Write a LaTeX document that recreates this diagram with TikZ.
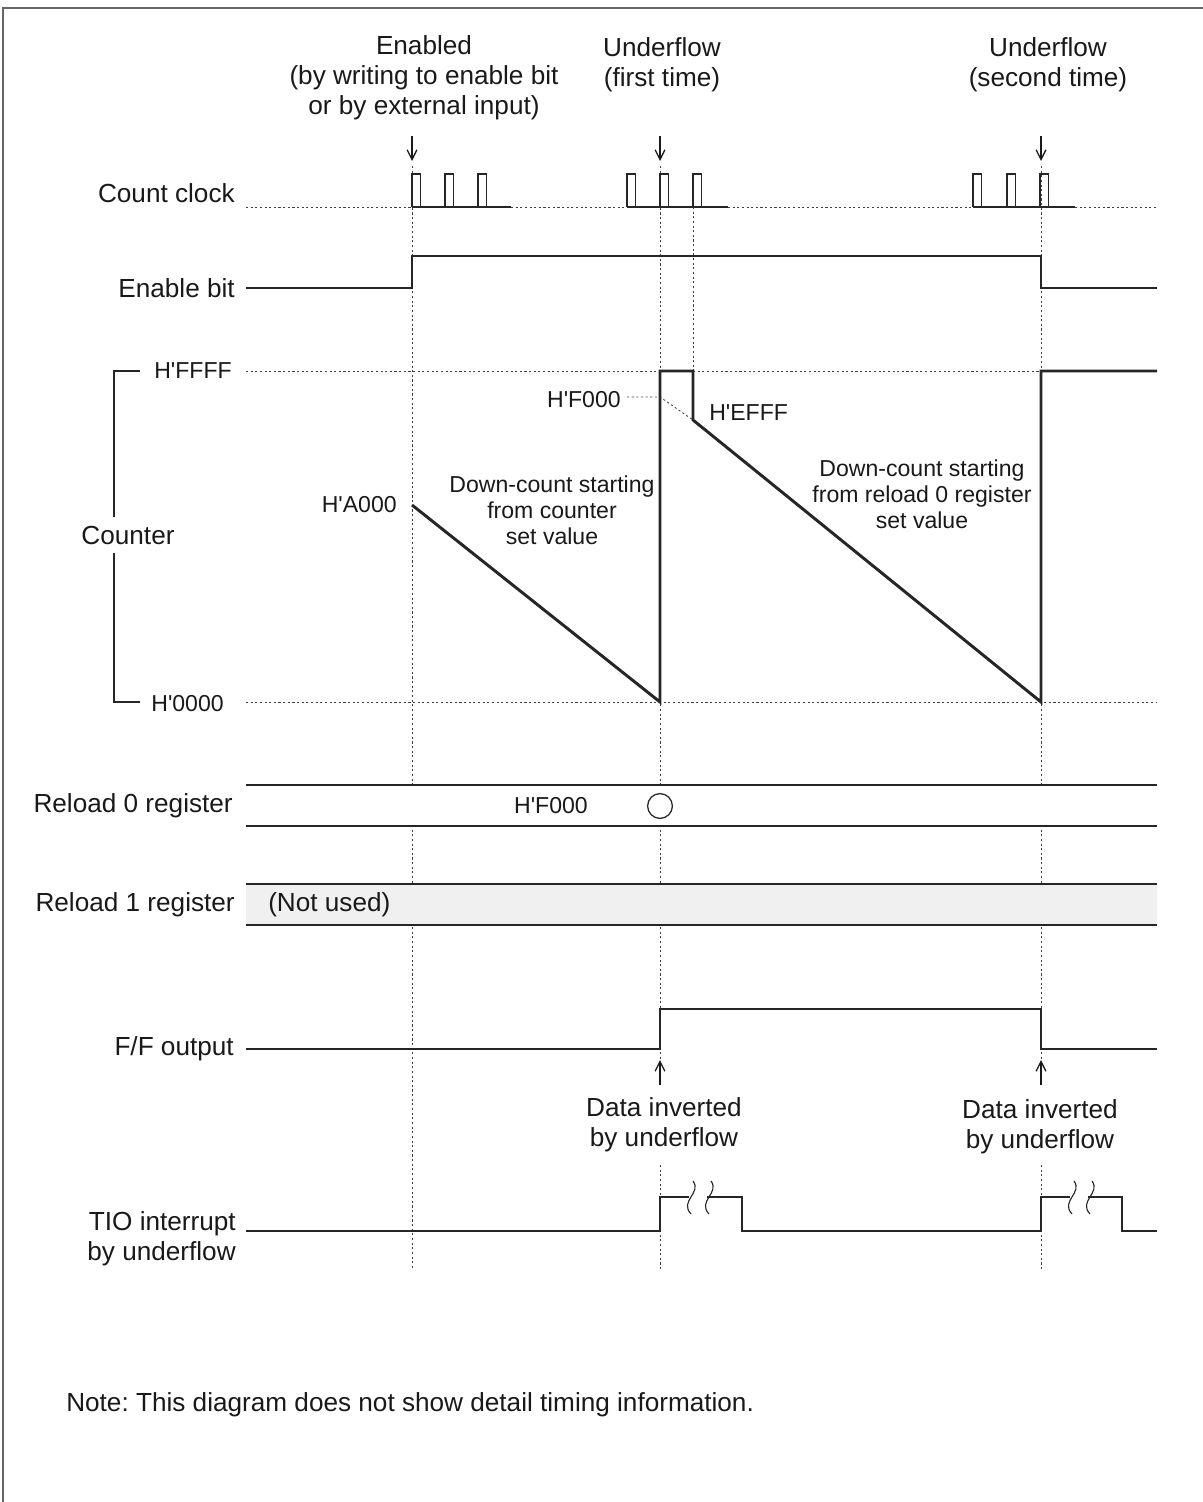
\documentclass[tikz,border=0pt]{standalone}
\usepackage{fontspec}
\setmainfont{Liberation Sans}
\usetikzlibrary{arrows.meta}
\newcommand{\hexv}[1]{H\textquotesingle#1}
\frenchspacing
\begin{document}
\begin{tikzpicture}[x=0.025cm, y=-0.025cm,
    sig/.style={line width=0.9pt, black!85},
    cnt/.style={line width=2.1pt, black!85, line join=miter},
    guide/.style={line width=0.6pt, black!75, dash pattern=on 1.5pt off 1.8pt},
    lbl/.style={font=\fontsize{18.6}{21.3}\selectfont, inner sep=0pt, text=black!90},
    vlbl/.style={font=\fontsize{16.4}{18.5}\selectfont, inner sep=0pt, text=black!90},
    evarrow/.style={-{Straight Barb[length=7pt,width=7pt]}, line width=0.9pt, black!90}]
    \useasboundingbox (0,0) rectangle (1203,1502);
    % 枠
    \draw[line width=1.4pt, black!60] (1203,8) -- (3,8) -- (3,1502);

    % 見出し
    \node[lbl, align=center] (enlbl) at (424,78) {Enabled\\(by writing to enable bit\\or by external input)};
    \node[lbl, align=center] (uf1lbl) at (662,65) {Underflow\\(first time)};
    \node[lbl, align=center] (uf2lbl) at (1048,65) {Underflow\\(second time)};
    \draw[evarrow] (412,136) -- (412,161);
    \draw[evarrow] (660,136) -- (660,161);
    \draw[evarrow] (1041,136) -- (1041,161);

    % 縦の補助線
    \draw[guide] (412,166) -- (412,1270);
    \foreach \x in {660,1041}
      \draw[guide] (\x,166) -- (\x,1060) (\x,1165) -- (\x,1270);
    \draw[guide] (693,207) -- (693,371);

    % カウントクロック
    \node[lbl, anchor=east] (clklbl) at (235,193) {Count clock};
    \draw[guide] (246,207) -- (412,207) (511,207) -- (627,207) (728,207) -- (973,207) (1075,207) -- (1157,207);
    \draw[sig] (412,207) -- (511,207) (627,207) -- (728,207) (973,207) -- (1075,207);
    \foreach \x in {412,445,478,627,660,693,973,1007,1040}
      \draw[sig] (\x,207) -- (\x,174) -- ++(8.5,0) -- ++(0,33);

    % イネーブルビット
    \node[lbl, anchor=east] (enblbl) at (235,288) {Enable bit};
    \draw[sig] (246,288) -- (412,288) -- (412,256) -- (1041,256) -- (1041,288) -- (1157,288);

    % カウンタ
    \node[lbl] (cntlbl) at (128,535) {Counter};
    \draw[sig] (140,371) -- (114,371) -- (114,517);
    \draw[sig] (114,553) -- (114,702) -- (140,702);
    \node[vlbl, anchor=east] (ffff) at (232,371) {\hexv{FFFF}};
    \node[vlbl, anchor=east] (zero) at (224,704) {\hexv{0000}};
    \draw[guide] (246,371) -- (660,371) (693,371) -- (1041,371);
    \draw[guide] (246,702) -- (1157,702);
    \draw[guide] (627,397) -- (660,397) -- (693,420);
    \draw[cnt] (412,505) -- (660,702) -- (660,371) -- (693,371) -- (693,420) -- (1041,702) -- (1041,371) -- (1157,371);
    \node[vlbl, anchor=east] (a000) at (397,505) {\hexv{A000}};
    \node[vlbl, anchor=east] (f000) at (621,400) {\hexv{F000}};
    \node[vlbl, anchor=west] (efff) at (709,413) {\hexv{EFFF}};
    \node[vlbl, align=center] (dc1) at (552,510) {Down-count starting\\from counter\\set value};
    \node[vlbl, align=center] (dc2) at (922,494) {Down-count starting\\from reload 0 register\\set value};

    % リロードレジスタ
    \fill[white] (246,785) rectangle (1157,826);
    \draw[sig] (246,785) -- (1157,785) (246,826) -- (1157,826);
    \node[lbl, anchor=east] (rl0lbl) at (233,806) {Reload 0 register};
    \node[vlbl] (rl0val) at (551,806) {\hexv{F000}};
    \node[circle, draw, sig, fill=white, minimum size=0.62cm, inner sep=0pt] (rl0pt) at (660,806) {};
    \fill[black!6] (246,884) rectangle (1157,925);
    \draw[sig] (246,884) -- (1157,884) (246,925) -- (1157,925);
    \node[lbl, anchor=east] (rl1lbl) at (235,905) {Reload 1 register};
    \node[lbl, anchor=west] (rl1val) at (268,905) {(Not used)};

    % F/F出力
    \node[lbl, anchor=east] (fflbl) at (234,1049) {F/F output};
    \draw[sig] (246,1049) -- (660,1049) -- (660,1009) -- (1041,1009) -- (1041,1049) -- (1157,1049);
    \draw[evarrow] (660,1085) -- (660,1060);
    \draw[evarrow] (1041,1085) -- (1041,1060);
    \node[lbl, align=center] (inv1) at (664,1125) {Data inverted\\by underflow};
    \node[lbl, align=center] (inv2) at (1040,1127) {Data inverted\\by underflow};

    % TIO割り込み
    \node[lbl, align=right, anchor=east] (tiolbl) at (236,1239) {TIO interrupt\\by underflow};
    \draw[sig] (246,1231) -- (660,1231) -- (660,1197) -- (689,1197);
    \draw[sig] (707,1197) -- (742,1197) -- (742,1231) -- (1041,1231) -- (1041,1197) -- (1070,1197);
    \draw[sig] (1088,1197) -- (1122,1197) -- (1122,1231) -- (1157,1231);
    \foreach \x in {690,708,1071,1089}
      \draw[sig, line width=0.8pt] (\x+3,1181) .. controls (\x+12,1193) and (\x-11,1201) .. (\x+1,1214);

    % 注記
    \node[lbl, anchor=west] (note) at (66,1405) {Note: This diagram does not show detail timing information.};
\end{tikzpicture}
\end{document}
